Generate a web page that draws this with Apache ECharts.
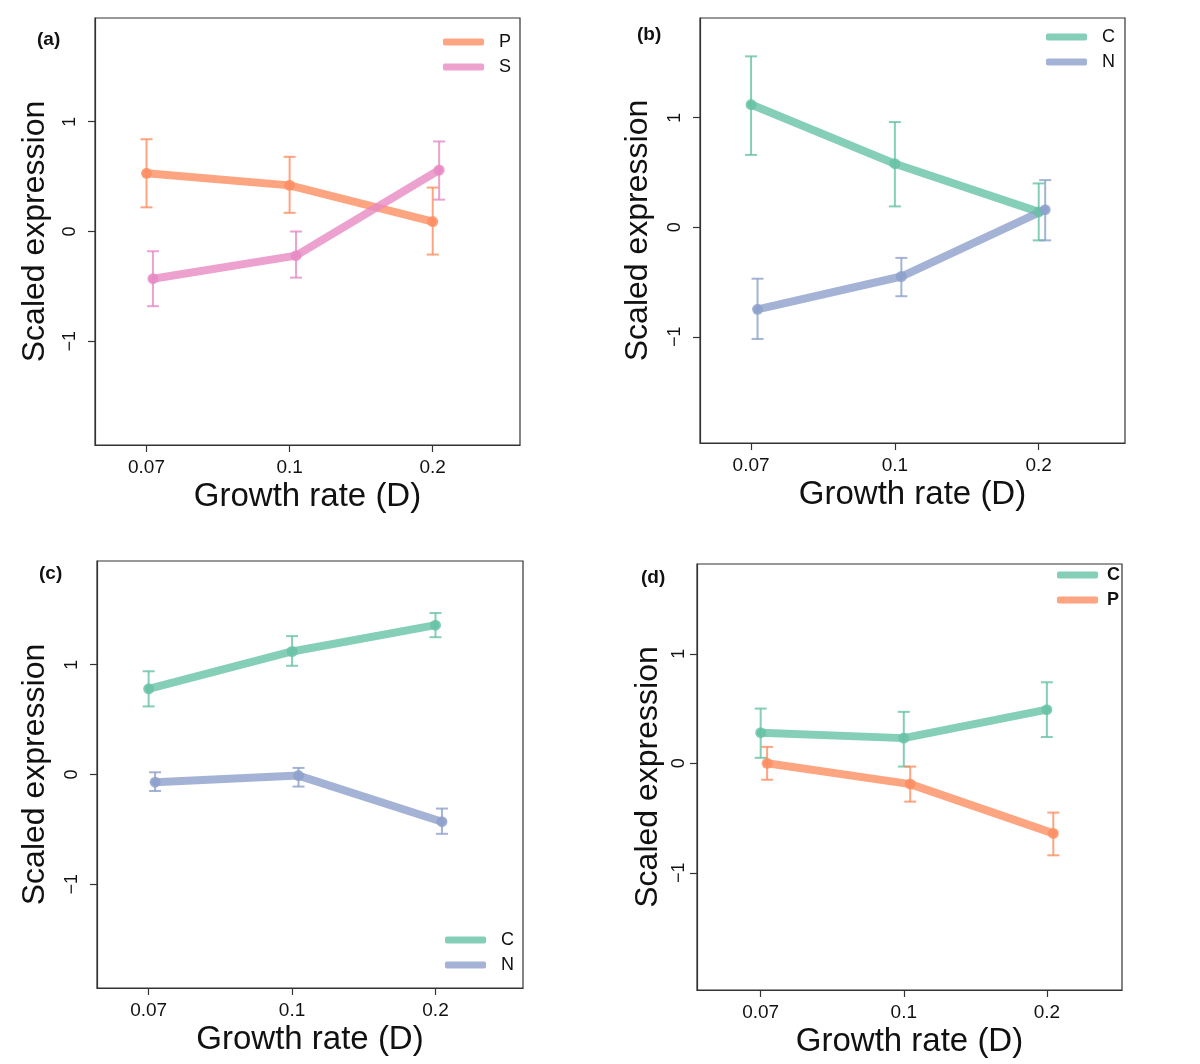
<!DOCTYPE html>
<html>
<head>
<meta charset="utf-8">
<script src="https://cdn.jsdelivr.net/npm/echarts@6/dist/echarts.min.js"></script>
<style>
html,body{margin:0;padding:0;background:#fff;}
#chart{width:1200px;height:1064px;}
</style>
</head>
<body>
<div id="chart"></div>
<script>
// ---- data ----
const xTickLabels = ['0.07', '0.1', '0.2'];
const xPositions = [1, 2, 3];
const yTickValues = [-1, 0, 1];
const panelLabels = ['(a)', '(b)', '(c)', '(d)'];

// panel (a)
const aP_mean = [0.53, 0.42, 0.09];
const aP_low  = [0.22, 0.17, -0.21];
const aP_high = [0.84, 0.68, 0.40];
const aS_mean = [-0.43, -0.22, 0.56];
const aS_low  = [-0.68, -0.42, 0.29];
const aS_high = [-0.18, 0.00, 0.82];

// panel (b)
const bC_mean = [1.12, 0.58, 0.14];
const bC_low  = [0.66, 0.19, -0.12];
const bC_high = [1.56, 0.96, 0.40];
const bN_mean = [-0.75, -0.45, 0.16];
const bN_low  = [-1.02, -0.63, -0.12];
const bN_high = [-0.47, -0.28, 0.43];

// panel (c)
const cC_mean = [0.78, 1.12, 1.36];
const cC_low  = [0.62, 0.99, 1.25];
const cC_high = [0.94, 1.26, 1.47];
const cN_mean = [-0.07, -0.01, -0.43];
const cN_low  = [-0.15, -0.11, -0.54];
const cN_high = [0.02, 0.06, -0.31];

// panel (d)
const dC_mean = [0.28, 0.23, 0.49];
const dC_low  = [0.05, -0.03, 0.24];
const dC_high = [0.50, 0.47, 0.74];
const dP_mean = [0.00, -0.19, -0.64];
const dP_low  = [-0.15, -0.35, -0.84];
const dP_high = [0.15, -0.03, -0.45];

// ---- styles / layout ----
const COL = {
  P: 'rgba(252,141,98,0.8)',
  S: 'rgba(231,138,195,0.8)',
  C: 'rgba(102,194,165,0.8)',
  N: 'rgba(141,160,203,0.8)'
};
const FONT = "'Liberation Sans', Arial, Helvetica, sans-serif";
const DODGE = 0.045;

const grids = [
  {left: 95,  top: 18,  width: 425, height: 427},
  {left: 700, top: 18,  width: 425, height: 425},
  {left: 97,  top: 561, width: 426, height: 427},
  {left: 697, top: 564, width: 425, height: 426}
];
const xRange = [[0.64, 3.61], [0.645, 3.6], [0.64, 3.61], [0.555, 3.525]];
const yRange = [[-1.944, 1.944], [-1.97, 1.91], [-1.944, 1.944], [-2.07, 1.82]];
const yLabelMargin = [16, 16, 16, 9];
const yNameGap = [44, 46, 46, 33];

const panels = [
  {series: [['P', aP_mean, aP_low, aP_high], ['S', aS_mean, aS_low, aS_high]]},
  {series: [['C', bC_mean, bC_low, bC_high], ['N', bN_mean, bN_low, bN_high]]},
  {series: [['C', cC_mean, cC_low, cC_high], ['N', cN_mean, cN_low, cN_high]]},
  {series: [['C', dC_mean, dC_low, dC_high], ['P', dP_mean, dP_low, dP_high]]}
];

function fmtY(v) { return v < 0 ? '\u2212' + Math.abs(v) : String(v); }

const option = {
  animation: false,
  backgroundColor: '#ffffff',
  textStyle: {fontFamily: FONT},
  grid: grids.map(g => Object.assign({show: true, borderColor: '#333', borderWidth: 1.2, backgroundColor: 'transparent', containLabel: false}, g)),
  xAxis: grids.map((g, i) => ({
    type: 'value', gridIndex: i, min: xRange[i][0], max: xRange[i][1],
    name: 'Growth rate (D)', nameLocation: 'middle', nameGap: 35,
    nameTextStyle: {fontSize: 33, color: '#111', fontFamily: FONT},
    axisLine: {show: true, onZero: false, lineStyle: {color: '#333', width: 1.2}},
    axisTick: {show: true, length: 7, customValues: xPositions, lineStyle: {color: '#333', width: 1.2}},
    axisLabel: {show: true, customValues: xPositions, margin: 13, fontSize: 19, color: '#111', fontFamily: FONT,
      formatter: v => xTickLabels[Math.round(v) - 1]},
    splitLine: {show: false}
  })),
  yAxis: grids.map((g, i) => ({
    type: 'value', gridIndex: i, min: yRange[i][0], max: yRange[i][1],
    name: 'Scaled expression', nameLocation: 'middle', nameGap: yNameGap[i], nameRotate: 90,
    nameTextStyle: {fontSize: 32, color: '#111', fontFamily: FONT},
    axisLine: {show: true, onZero: false, lineStyle: {color: '#333', width: 1.2}},
    axisTick: {show: true, length: 7, customValues: yTickValues, lineStyle: {color: '#333', width: 1.2}},
    axisLabel: {show: true, customValues: yTickValues, rotate: 90, margin: yLabelMargin[i], fontSize: 18, color: '#111', fontFamily: FONT,
      formatter: fmtY},
    splitLine: {show: false}
  })),
  title: [
    {text: panelLabels[0], left: 37, top: 30},
    {text: panelLabels[1], left: 637, top: 25},
    {text: panelLabels[2], left: 39, top: 564},
    {text: panelLabels[3], left: 641, top: 568}
  ].map(t => Object.assign({padding: 0, textStyle: {fontSize: 19, fontWeight: 'bold', color: '#111', fontFamily: FONT}}, t)),
  legend: [
    {data: ['P', 'S'], left: 443, top: 33, bold: false, gap: 10},
    {data: ['C', 'N'], left: 1046, top: 28, bold: false, gap: 10},
    {data: ['C', 'N'], left: 445, top: 931, bold: false, gap: 10},
    {data: ['C', 'P'], left: 1057, top: 566, bold: true, gap: 4}
  ].map(l => ({
    data: l.data, left: l.left, top: l.top, orient: 'vertical', icon: 'roundRect',
    itemWidth: 41, itemHeight: 7, itemGap: 7, padding: 0, selectedMode: false,
    textStyle: {fontSize: 18, color: '#111', fontFamily: FONT, fontWeight: l.bold ? 'bold' : 'normal', padding: [0, 0, 0, l.gap]}
  })),
  series: []
};

panels.forEach((p, pi) => {
  p.series.forEach((s, si) => {
    const [name, mean] = s;
    const off = si * DODGE;
    const color = COL[name];
    option.series.push({
      type: 'line', name: name, xAxisIndex: pi, yAxisIndex: pi,
      data: xPositions.map((x, k) => [x + off, mean[k]]),
      color: color,
      lineStyle: {width: 8, color: color, cap: 'round', join: 'round'},
      symbol: 'circle', symbolSize: 11,
      itemStyle: {color: color},
      z: 2
    });
  });
  p.series.forEach((s, si) => {
    const [name, , low, high] = s;
    const off = si * DODGE;
    const color = COL[name];
    option.series.push({
      type: 'custom', name: name + ' error', xAxisIndex: pi, yAxisIndex: pi,
      data: xPositions.map((x, k) => [x + off, low[k], high[k]]),
      encode: {x: 0, y: [1, 2]},
      itemStyle: {color: color},
      z: 3,
      renderItem: function (params, api) {
        const x = api.value(0);
        const a = api.coord([x, api.value(1)]);
        const b = api.coord([x, api.value(2)]);
        const hw = 6;
        const st = {stroke: color, lineWidth: 2};
        return {type: 'group', children: [
          {type: 'line', shape: {x1: a[0], y1: a[1], x2: b[0], y2: b[1]}, style: st},
          {type: 'line', shape: {x1: a[0] - hw, y1: a[1], x2: a[0] + hw, y2: a[1]}, style: st},
          {type: 'line', shape: {x1: b[0] - hw, y1: b[1], x2: b[0] + hw, y2: b[1]}, style: st}
        ]};
      }
    });
  });
});

const chart = echarts.init(document.getElementById('chart'), null, {renderer: 'canvas'});
chart.setOption(option);
</script>
</body>
</html>
